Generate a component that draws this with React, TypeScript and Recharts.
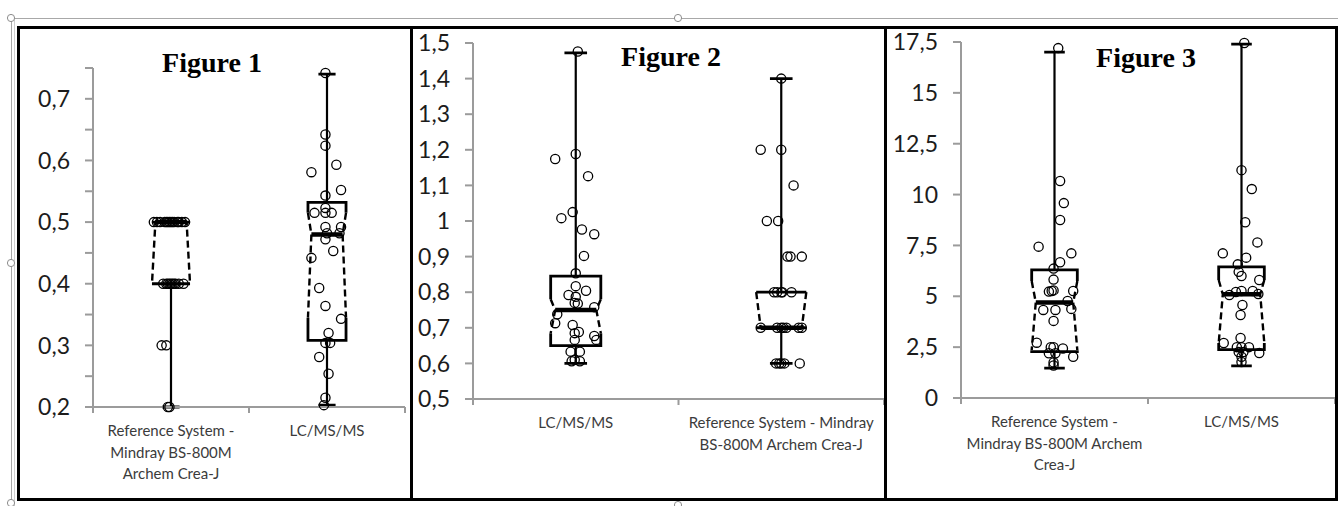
import { ComposedChart, Line, Scatter, XAxis, YAxis } from 'recharts'

interface BoxStats {
  min: number
  q1: number
  median: number
  q3: number
  max: number
  notchLow: number
  notchHigh: number
}

type Pt = { x: number; y: number | null }

// ---- Figure 1 ----
const fig1Categories = [['Reference System -', 'Mindray BS-800M', 'Archem Crea-J'], ['LC/MS/MS']]
const fig1YTicks = [0.2, 0.25, 0.3, 0.35, 0.4, 0.45, 0.5, 0.55, 0.6, 0.65, 0.7, 0.75]
const fig1YLabels = [0.2, 0.3, 0.4, 0.5, 0.6, 0.7]
const fig1Boxes: BoxStats[] = [
  { min: 0.2, q1: 0.4, median: 0.5, q3: 0.5, max: 0.5, notchLow: 0.4, notchHigh: 0.5 },
  { min: 0.203, q1: 0.308, median: 0.48, q3: 0.532, max: 0.74, notchLow: 0.345, notchHigh: 0.515 },
]
const fig1RefValues = [
  0.5, 0.5, 0.5, 0.5, 0.5, 0.5, 0.5, 0.5, 0.5, 0.5, 0.5, 0.5, 0.5, 0.5,
  0.4, 0.4, 0.4, 0.4, 0.4, 0.4, 0.4, 0.4, 0.4, 0.4,
  0.3, 0.3, 0.2, 0.2,
]
const fig1RefJitter = [
  -0.11, -0.09, -0.07, -0.04, -0.03, -0.02, -0.01, 0, 0.01, 0.02, 0.04, 0.05, 0.07, 0.09,
  -0.05, -0.03, -0.02, -0.01, 0, 0.01, 0.02, 0.03, 0.05, 0.08,
  -0.06, -0.03, -0.02, -0.01,
]
const fig1LcValues = [
  0.742, 0.642, 0.624, 0.593, 0.581, 0.552, 0.543, 0.523, 0.515, 0.515, 0.515, 0.492, 0.492, 0.482,
  0.482, 0.472, 0.453, 0.442, 0.393, 0.364, 0.343, 0.32, 0.304, 0.304, 0.281, 0.254, 0.215, 0.203,
]
const fig1LcJitter = [
  -0.01, -0.01, -0.01, 0.06, -0.1, 0.09, -0.01, -0.01, -0.08, -0.01, 0.03, -0.01, 0.09, 0,
  0.08, -0.01, 0.04, -0.1, -0.05, -0.01, 0.09, 0.01, -0.01, 0.02, -0.05, 0.01, -0.01, -0.02,
]

// ---- Figure 2 ----
const fig2Categories = [['LC/MS/MS'], ['Reference System - Mindray', 'BS-800M Archem Crea-J']]
const fig2YTicks = [0.5, 0.6, 0.7, 0.8, 0.9, 1, 1.1, 1.2, 1.3, 1.4, 1.5]
const fig2Boxes: BoxStats[] = [
  { min: 0.6, q1: 0.65, median: 0.75, q3: 0.845, max: 1.472, notchLow: 0.685, notchHigh: 0.78 },
  { min: 0.6, q1: 0.7, median: 0.7, q3: 0.8, max: 1.4, notchLow: 0.7, notchHigh: 0.8 },
]
const fig2LcValues = [
  1.476, 1.188, 1.174, 1.126, 1.025, 1.008, 0.976, 0.963, 0.902, 0.853, 0.817, 0.804, 0.792, 0.787, 0.77,
  0.768, 0.758, 0.738, 0.713, 0.708, 0.688, 0.685, 0.677, 0.666, 0.666, 0.633, 0.633, 0.61, 0.606, 0.606,
]
const fig2LcJitter = [
  0.01, 0, -0.1, 0.06, -0.015, -0.07, 0.03, 0.09, 0.04, 0, 0, 0.05, -0.035, 0, -0.005,
  0.01, 0.09, -0.09, -0.1, -0.015, 0.015, -0.005, 0.09, 0.1, -0.005, -0.025, 0.02, -0.005, -0.02, 0.02,
]
const fig2RefValues = [
  1.4, 1.2, 1.2, 1.1, 1.0, 1.0, 0.9, 0.9, 0.9, 0.8, 0.8, 0.8, 0.8, 0.8,
  0.7, 0.7, 0.7, 0.7, 0.7, 0.7, 0.7, 0.6, 0.6, 0.6, 0.6, 0.6,
]
const fig2RefJitter = [
  0, -0.1, 0, 0.06, -0.07, -0.015, 0.03, 0.045, 0.1, -0.035, -0.02, 0, 0.005, 0.05,
  -0.1, -0.02, 0, 0.01, 0.025, 0.085, 0.1, -0.025, -0.01, 0, 0.015, 0.09,
]

// ---- Figure 3 ----
const fig3Categories = [['Reference System -', 'Mindray BS-800M Archem', 'Crea-J'], ['LC/MS/MS']]
const fig3YTicks = [0, 2.5, 5, 7.5, 10, 12.5, 15, 17.5]
const fig3Boxes: BoxStats[] = [
  { min: 1.47, q1: 2.28, median: 4.7, q3: 6.3, max: 17.0, notchLow: 2.35, notchHigh: 5.75 },
  { min: 1.58, q1: 2.38, median: 5.1, q3: 6.45, max: 17.4, notchLow: 2.7, notchHigh: 5.8 },
]
const fig3RefValues = [
  17.2, 10.67, 9.58, 8.75, 7.44, 7.11, 6.67, 6.36, 5.82, 5.23, 5.26, 5.29, 5.26, 4.77,
  4.33, 4.33, 4.38, 3.79, 2.72, 2.5, 2.5, 2.43, 2.2, 2.2, 2.03, 1.75, 1.6,
]
const fig3RefJitter = [
  0.02, 0.03, 0.05, 0.03, -0.085, 0.09, 0.03, -0.005, -0.005, -0.03, -0.015, -0.005, 0.1, 0.07,
  -0.06, 0.005, 0.09, -0.005, -0.095, -0.02, -0.005, 0.045, -0.03, 0.005, 0.1, -0.005, -0.005,
]
const fig3LcValues = [
  17.45, 11.2, 10.27, 8.64, 7.65, 7.11, 6.9, 6.57, 6.2, 6.0, 5.8, 5.06, 5.21, 5.26,
  5.26, 5.11, 4.57, 4.08, 2.95, 2.7, 2.5, 2.5, 2.5, 2.26, 2.26, 2.21, 2.03, 1.77,
]
const fig3LcJitter = [
  0.015, 0, 0.055, 0.02, 0.085, -0.1, 0.025, -0.02, -0.015, 0, 0.095, -0.065, -0.03, 0,
  0.06, 0.09, 0.005, -0.005, -0.005, -0.095, -0.025, 0, 0.04, -0.015, 0.01, 0.095, 0, 0,
]

const AXIS_GRAY = '#9b9b9b'
const INK = '#000'
const FONT = 'Lato, "Open Sans", sans-serif'
const PANEL_TOP = 26
const PANEL_HEIGHT = 475
const BORDER = 3
// the chart svg starts a little above the panel's inner edge so the top tick label is never clipped
const LIFT = 12

// box geometry, in x-axis units (one category = 1 unit)
const BOX_HALF = 0.122
const NOTCH_HALF = 0.1
const MEDIAN_HALF = 0.1
const CAP_HALF = 0.055

function samples(center: number, values: number[], jitter: number[]) {
  return values.map((v, i) => ({ x: center + jitter[i], y: v }))
}

function buildSegments(boxes: BoxStats[]) {
  const whisker: Pt[] = []
  const outline: Pt[] = []
  const notch: Pt[] = []
  const median: Pt[] = []
  boxes.forEach((b, i) => {
    const c = i + 0.5
    const l = c - BOX_HALF
    const r = c + BOX_HALF
    const gap = { x: c, y: null }
    whisker.push({ x: c, y: b.q3 }, { x: c, y: b.max }, gap, { x: c, y: b.q1 }, { x: c, y: b.min }, gap)
    outline.push(
      { x: l, y: b.notchHigh }, { x: l, y: b.q3 }, { x: r, y: b.q3 }, { x: r, y: b.notchHigh }, gap,
      { x: l, y: b.notchLow }, { x: l, y: b.q1 }, { x: r, y: b.q1 }, { x: r, y: b.notchLow }, gap,
      { x: c - CAP_HALF, y: b.max }, { x: c + CAP_HALF, y: b.max }, gap,
      { x: c - CAP_HALF, y: b.min }, { x: c + CAP_HALF, y: b.min }, gap,
    )
    notch.push(
      { x: l, y: b.notchHigh }, { x: c - NOTCH_HALF, y: b.median }, { x: l, y: b.notchLow }, gap,
      { x: r, y: b.notchHigh }, { x: c + NOTCH_HALF, y: b.median }, { x: r, y: b.notchLow }, gap,
    )
    median.push({ x: c - MEDIAN_HALF, y: b.median }, { x: c + MEDIAN_HALF, y: b.median }, gap)
  })
  return { whisker, outline, notch, median }
}

const fmtComma = (v: number) => String(v).replace('.', ',')

function renderDot(props: any) {
  return <circle cx={props.cx} cy={props.cy} r={4.6} fill="none" stroke={INK} strokeWidth={1.3} />
}

function makeXTick(categories: string[][]) {
  return (props: any) => {
    const { x, y, payload } = props
    const v = payload.value as number
    if (Number.isInteger(v)) {
      return <line x1={x} y1={y} x2={x} y2={y + 6} stroke={AXIS_GRAY} strokeWidth={2} />
    }
    const lines = categories[Math.floor(v)]
    return (
      <text x={x} y={y + 29} textAnchor="middle" fontFamily={FONT} fontSize={15} fill="#3b3b3b">
        {lines.map((s, i) => (
          <tspan key={i} x={x} dy={i === 0 ? 0 : 21.5}>
            {s}
          </tspan>
        ))}
      </text>
    )
  }
}

interface PanelProps {
  left: number
  width: number
  top: number
  right: number
  yAxisWidth: number
  xAxisHeight: number
  yDomain: [number, number]
  yTicks: number[]
  yLabels?: number[]
  categories: string[][]
  boxes: BoxStats[]
  points: { x: number; y: number }[][]
}

function BoxPanel(p: PanelProps) {
  const seg = buildSegments(p.boxes)
  const labelSet = p.yLabels ? new Set(p.yLabels) : null
  return (
    <div
      style={{
        position: 'absolute',
        left: p.left,
        top: PANEL_TOP,
        width: p.width,
        height: PANEL_HEIGHT,
        border: `${BORDER}px solid #000`,
        boxSizing: 'border-box',
        background: '#fff',
      }}
    >
      <div style={{ position: 'absolute', left: 0, top: -LIFT }}>
        <ComposedChart
          width={p.width - 2 * BORDER}
          height={PANEL_HEIGHT - 2 * BORDER + LIFT}
          margin={{ top: p.top + LIFT, right: p.right, bottom: 0, left: 0 }}
        >
          <XAxis
            type="number"
            dataKey="x"
            domain={[0, 2]}
            ticks={[0, 0.5, 1, 1.5, 2]}
            interval={0}
            height={p.xAxisHeight}
            axisLine={{ stroke: AXIS_GRAY, strokeWidth: 2 }}
            tickLine={false}
            tickSize={0}
            tickMargin={0}
            tick={makeXTick(p.categories)}
          />
          <YAxis
            type="number"
            dataKey="y"
            domain={p.yDomain}
            ticks={p.yTicks}
            interval={0}
            width={p.yAxisWidth}
            axisLine={{ stroke: AXIS_GRAY, strokeWidth: 2 }}
            tickLine={{ stroke: AXIS_GRAY, strokeWidth: 2 }}
            tickSize={8}
            tickMargin={15}
            tick={{ fill: '#1c1c1c', fontSize: 23, fontFamily: FONT }}
            tickFormatter={(v: number) => (labelSet && !labelSet.has(v) ? '' : fmtComma(v))}
          />
          <Line data={seg.whisker} dataKey="y" stroke={INK} strokeWidth={2.2} dot={false} activeDot={false} connectNulls={false} isAnimationActive={false} />
          <Line data={seg.outline} dataKey="y" stroke={INK} strokeWidth={2.8} dot={false} activeDot={false} connectNulls={false} isAnimationActive={false} />
          <Line data={seg.notch} dataKey="y" stroke={INK} strokeWidth={2.4} strokeDasharray="7 4" dot={false} activeDot={false} connectNulls={false} isAnimationActive={false} />
          <Line data={seg.median} dataKey="y" stroke={INK} strokeWidth={4.5} dot={false} activeDot={false} connectNulls={false} isAnimationActive={false} />
          {p.points.map((pts, i) => (
            <Scatter key={i} data={pts} dataKey="y" shape={renderDot} isAnimationActive={false} />
          ))}
        </ComposedChart>
      </div>
    </div>
  )
}

const titles = [
  { text: 'Figure 1', x: 212, y: 72 },
  { text: 'Figure 2', x: 671, y: 66 },
  { text: 'Figure 3', x: 1146, y: 67 },
]

export default function App() {
  return (
    <div style={{ position: 'absolute', left: 0, top: 0, width: 1338, height: 506, background: '#fff', overflow: 'hidden' }}>
      <BoxPanel
        left={17}
        width={396}
        top={39}
        right={5}
        yAxisWidth={73}
        xAxisHeight={91}
        yDomain={[0.2, 0.75]}
        yTicks={fig1YTicks}
        yLabels={fig1YLabels}
        categories={fig1Categories}
        boxes={fig1Boxes}
        points={[samples(0.5, fig1RefValues, fig1RefJitter), samples(1.5, fig1LcValues, fig1LcJitter)]}
      />
      <BoxPanel
        left={410}
        width={477}
        top={14}
        right={0}
        yAxisWidth={60}
        xAxisHeight={99}
        yDomain={[0.5, 1.5]}
        yTicks={fig2YTicks}
        categories={fig2Categories}
        boxes={fig2Boxes}
        points={[samples(0.5, fig2LcValues, fig2LcJitter), samples(1.5, fig2RefValues, fig2RefJitter)]}
      />
      <BoxPanel
        left={884}
        width={454}
        top={13}
        right={0}
        yAxisWidth={74}
        xAxisHeight={100}
        yDomain={[0, 17.5]}
        yTicks={fig3YTicks}
        categories={fig3Categories}
        boxes={fig3Boxes}
        points={[samples(0.5, fig3RefValues, fig3RefJitter), samples(1.5, fig3LcValues, fig3LcJitter)]}
      />
      {/* titles and the picture frame with its handles */}
      <svg width={1338} height={506} style={{ position: 'absolute', left: 0, top: 0, pointerEvents: 'none' }}>
        {titles.map((t) => (
          <text
            key={t.text}
            x={t.x}
            y={t.y}
            textAnchor="middle"
            fontFamily='"Liberation Serif", "Times New Roman", serif'
            fontWeight="bold"
            fontSize={28}
            fill="#000"
          >
            {t.text}
          </text>
        ))}
        <line x1={11} y1={18.5} x2={1338} y2={18.5} stroke="#a8a8a8" strokeWidth={1} />
        <line x1={11.5} y1={18} x2={11.5} y2={506} stroke="#a8a8a8" strokeWidth={1} />
        <line x1={14.5} y1={18} x2={14.5} y2={506} stroke="#cfcfcf" strokeWidth={1} />
        {[
          [11, 18],
          [678, 18],
          [11, 263],
          [11, 503],
          [678, 505],
        ].map(([cx, cy]) => (
          <circle key={`${cx}-${cy}`} cx={cx} cy={cy} r={3.6} fill="#fff" stroke="#8c8c8c" strokeWidth={1} />
        ))}
      </svg>
    </div>
  )
}
